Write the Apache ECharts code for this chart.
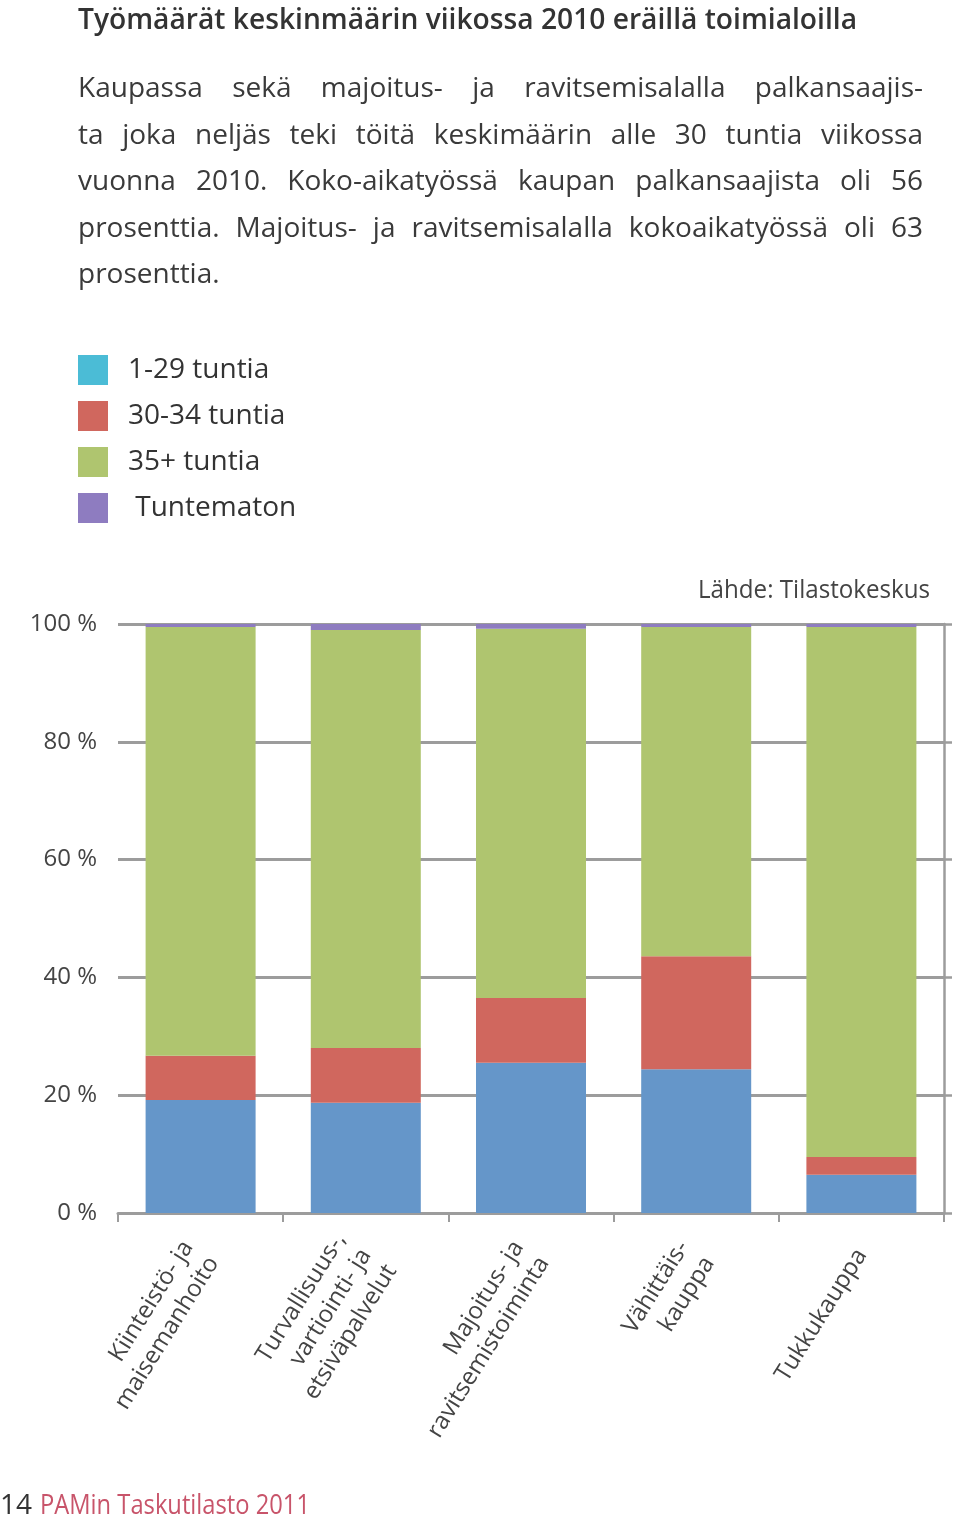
<!DOCTYPE html>
<html>
<head>
<meta charset="utf-8">
<script src="https://cdn.jsdelivr.net/npm/echarts@6/dist/echarts.min.js"></script>
<style>
html,body{margin:0;padding:0;background:#fff;}
#chart{position:absolute;left:0;top:0;width:960px;height:1525px;}
#para{position:absolute;left:78px;top:63px;transform-origin:0 0;font-family:'Open Sans';font-size:28px;line-height:46.5px;color:#3a3a3a;}
#para div{text-align:justify;text-align-last:justify;white-space:nowrap;}
#para div.last{text-align:left;text-align-last:left;}
</style>
</head>
<body>
<div id="chart"></div>
<div id="para"></div>
<script>
const titleText = 'Työmäärät keskinmäärin viikossa 2010 eräillä toimialoilla';
const paragraphLines = [
  'Kaupassa sekä majoitus- ja ravitsemisalalla palkansaajis-',
  'ta joka neljäs teki töitä keskimäärin alle 30 tuntia viikossa',
  'vuonna 2010. Koko-aikatyössä kaupan palkansaajista oli 56',
  'prosenttia. Majoitus- ja ravitsemisalalla kokoaikatyössä oli 63',
  'prosenttia.'
];
const sourceText = 'Lähde: Tilastokeskus';
const pageNumber = '14';
const footerText = 'PAMin Taskutilasto 2011';

const categories = [
  'Kiinteistö- ja\nmaisemanhoito',
  'Turvallisuus-,\nvartiointi- ja\netsiväpalvelut',
  'Majoitus- ja\nravitsemistoiminta',
  'Vähittäis-\nkauppa',
  'Tukkukauppa'
];
const seriesNames = ['1-29 tuntia', '30-34 tuntia', '35+ tuntia', 'Tuntematon'];
const hours1to29  = [19.2, 18.7, 25.5, 24.4, 6.5];
const hours30to34 = [7.5, 9.3, 11.0, 19.2, 3.0];
const hours35plus = [72.8, 71.0, 62.7, 55.9, 90.0];
const hoursUnknown = [0.5, 1.0, 0.8, 0.5, 0.5];
const yTickFormat = '{value} %';

const FONT = 'Open Sans';
const ctx = document.createElement('canvas').getContext('2d');
function tw(str, size, weight) { ctx.font = (weight || 'normal') + ' ' + size + 'px "' + FONT + '"'; return ctx.measureText(str).width; }

// paragraph (justified, condensed)
const paraTarget = 845;
const s = Math.min(1, 842 / tw(paragraphLines[3], 28));
const para = document.getElementById('para');
para.style.width = (paraTarget / s) + 'px';
para.style.transform = 'scaleX(' + s + ')';
paragraphLines.forEach((ln, i) => {
  const d = document.createElement('div');
  d.textContent = ln;
  if (i === paragraphLines.length - 1) d.className = 'last';
  para.appendChild(d);
});

const colors = ['#6596c9', '#d0675e', '#afc56f', '#8e7cc0'];
const legendColors = ['#4bbcd6', '#d0675e', '#afc56f', '#8e7cc0'];
const seriesData = [hours1to29, hours30to34, hours35plus, hoursUnknown];

const chart = echarts.init(document.getElementById('chart'));
chart.setOption({
  animation: false,
  textStyle: { fontFamily: FONT },
  grid: { left: 118, right: 16, top: 624, bottom: 312, containLabel: false, outerBoundsMode: 'none' },
  legend: {
    orient: 'vertical', left: 78, top: 355, padding: 0,
    itemWidth: 30, itemHeight: 30, itemGap: 16,
    icon: 'rect',
    selectedMode: false,
    data: seriesNames.map((n, i) => ({ name: n, itemStyle: { color: legendColors[i] } })),
    formatter: n => (n === 'Tuntematon' ? ' ' + n : n),
    textStyle: { fontSize: 28, color: '#333', fontFamily: FONT, padding: [0, 0, 0, 15] }
  },
  xAxis: {
    type: 'category',
    data: categories,
    axisLine: { lineStyle: { color: '#9c9c9c', width: 3 } },
    axisTick: { show: true, length: 9, lineStyle: { color: '#9c9c9c', width: 2 } },
    axisLabel: { interval: 0, rotate: 58, fontSize: 24, color: '#444', lineHeight: 30, margin: 38, fontFamily: FONT }
  },
  yAxis: [{
    type: 'value', min: 0, max: 100, interval: 20,
    axisLine: { show: false },
    axisTick: { show: false },
    axisLabel: { formatter: yTickFormat, fontSize: 24, color: '#444', margin: 21, fontFamily: FONT },
    splitLine: { show: true, lineStyle: { color: '#9c9c9c', width: 3 } }
  }, {
    type: 'value', min: 0, max: 100, interval: 20, position: 'right',
    axisLine: { show: true, lineStyle: { color: '#9c9c9c', width: 2.5 } },
    axisTick: { show: true, inside: false, length: 8, lineStyle: { color: '#9c9c9c', width: 2.5 } },
    axisLabel: { show: false },
    splitLine: { show: false }
  }],
  series: seriesNames.map((n, i) => ({
    name: n, type: 'bar', stack: 'total', barWidth: 110,
    itemStyle: { color: colors[i] },
    data: seriesData[i]
  })),
  graphic: [
    { type: 'text', x: 78, y: 21, scaleX: 779 / tw(titleText, 28, '600'),
      style: { text: titleText, fontSize: 28, fontWeight: '600', fontFamily: FONT, fill: '#333', textAlign: 'left', textVerticalAlign: 'middle' } },
    { type: 'text', x: 930, y: 591, scaleX: 232 / tw(sourceText, 25),
      style: { text: sourceText, fontSize: 25, fontFamily: FONT, fill: '#444', textAlign: 'right', textVerticalAlign: 'middle' } },
    { type: 'text', x: 0, y: 1506,
      style: { text: pageNumber, fontSize: 28, fontFamily: FONT, fill: '#333', textAlign: 'left', textVerticalAlign: 'middle' } },
    { type: 'text', x: 40, y: 1506, scaleX: 270 / tw(footerText, 27),
      style: { text: footerText, fontSize: 27, fontFamily: FONT, fill: '#c8546a', textAlign: 'left', textVerticalAlign: 'middle' } }
  ]
});
</script>
</body>
</html>
